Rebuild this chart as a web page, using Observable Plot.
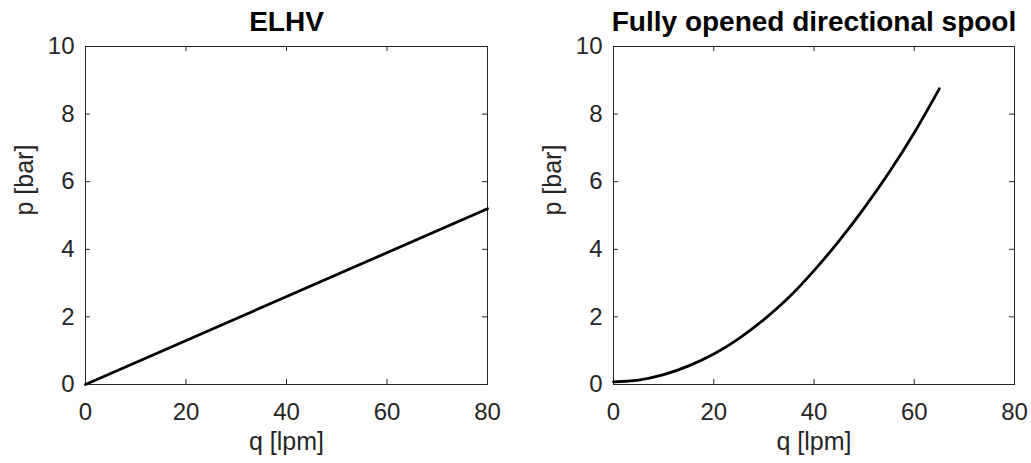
<!DOCTYPE html>
<html>
<head>
<meta charset="utf-8">
<script src="https://cdn.jsdelivr.net/npm/d3@7"></script>
<script src="https://cdn.jsdelivr.net/npm/@observablehq/plot@0.6"></script>
<style>
  html, body { margin: 0; padding: 0; background: #fff; }
  #charts { display: flex; width: 1031px; height: 463px; }
  #charts svg { display: block; }
</style>
</head>
<body>
<div id="charts"></div>
<script>
// Pressure drop vs. flow for the ELHV and the fully opened directional spool
const elhvFlow = [0, 80];            // q [lpm]
const elhvPressure = [0, 5.2];       // p [bar]

const spoolFlow = [0, 5, 10, 15, 20, 25, 30, 35, 40, 45, 50, 55, 60, 65];
const spoolPressure = [0.08, 0.13, 0.29, 0.55, 0.90, 1.36, 1.92, 2.58, 3.37, 4.25, 5.22, 6.28, 7.45, 8.75];

const xTicks = [0, 20, 40, 60, 80];
const yTicks = [0, 2, 4, 6, 8, 10];

const titles = ["ELHV", "Fully opened directional spool"];
const xLabel = "q [lpm]";
const yLabel = "p [bar]";

const axisColor = "#262626";
const H = 463, mTop = 46, mBottom = 79;
const innerH = H - mTop - mBottom;
const tickLen = 5;

function panel({title, flow, pressure, width, marginLeft, marginRight}) {
  const innerW = width - marginLeft - marginRight;
  const data = flow.map((q, i) => ({q, p: pressure[i]}));
  return Plot.plot({
    width, height: H,
    marginLeft, marginRight, marginTop: mTop, marginBottom: mBottom,
    style: {fontFamily: "'Liberation Sans', Arial, Helvetica, sans-serif", background: "#fff", overflow: "visible"},
    x: {domain: [0, 80]},
    y: {domain: [0, 10]},
    marks: [
      Plot.frame({stroke: axisColor, strokeWidth: 1}),
      // inward ticks on all four sides
      Plot.tickX(xTicks, {x: d => d, insetTop: innerH - tickLen, stroke: axisColor}),
      Plot.tickX(xTicks, {x: d => d, insetBottom: innerH - tickLen, stroke: axisColor}),
      Plot.tickY(yTicks, {y: d => d, insetRight: innerW - tickLen, stroke: axisColor}),
      Plot.tickY(yTicks, {y: d => d, insetLeft: innerW - tickLen, stroke: axisColor}),
      Plot.axisX(xTicks, {tickSize: 0, tickPadding: 18, fontSize: 24, color: axisColor, tickFormat: d => `${d}`, label: null}),
      Plot.axisY(yTicks, {tickSize: 0, tickPadding: 11, fontSize: 24, color: axisColor, tickFormat: d => `${d}`, label: null}),
      Plot.line(data, {x: "q", y: "p", stroke: "#000", strokeWidth: 2.8, curve: "monotone-x"}),
      Plot.text([xLabel], {text: d => d, frameAnchor: "bottom", dy: 57, lineAnchor: "middle", fontSize: 25, fill: axisColor}),
      Plot.text([yLabel], {text: d => d, frameAnchor: "left", dx: -61, rotate: -90, lineAnchor: "middle", fontSize: 25, fill: axisColor}),
      Plot.text([title], {text: d => d, frameAnchor: "top", dy: -24, lineAnchor: "middle", fontSize: 28, fontWeight: "bold", fill: "#000"})
    ]
  });
}

const root = document.getElementById("charts");
root.append(
  panel({title: titles[0], flow: elhvFlow, pressure: elhvPressure, width: 515, marginLeft: 85, marginRight: 28}),
  panel({title: titles[1], flow: spoolFlow, pressure: spoolPressure, width: 516, marginLeft: 98, marginRight: 17})
);
</script>
</body>
</html>
